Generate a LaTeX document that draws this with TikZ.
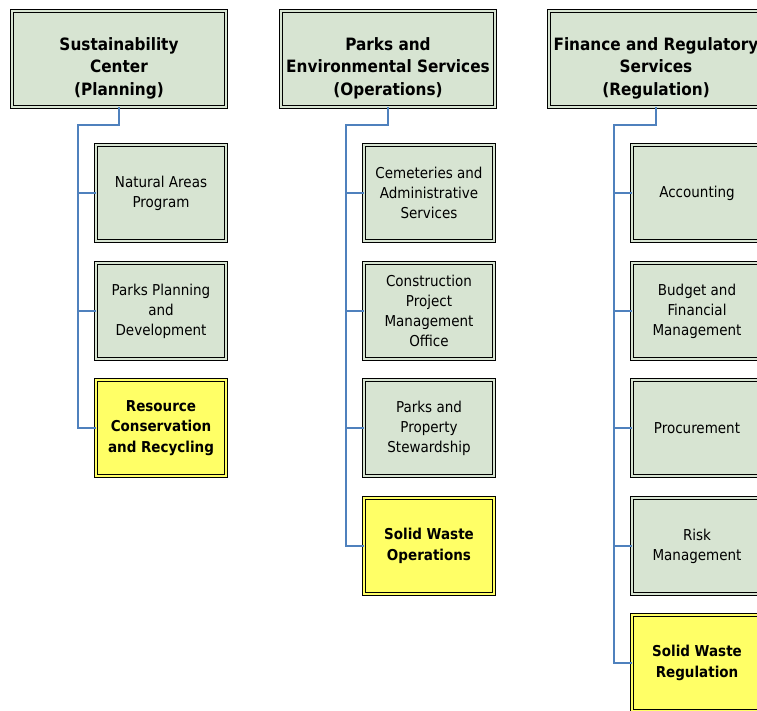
\documentclass[tikz,border=0pt]{standalone}
\usepackage{fontspec}
\setmainfont{DejaVu Sans Condensed}
\usepackage{tikz}
\usetikzlibrary{positioning}

\definecolor{boxgreen}{RGB}{215,228,210}
\definecolor{boxyellow}{RGB}{255,255,102}
\definecolor{linkblue}{RGB}{79,129,189}

\begin{document}
\begin{tikzpicture}[
  x=1pt, y=-1pt,
  box/.style={draw=black, double=#1, double distance=2.2pt, line width=0.8pt,
    fill=#1, align=center, inner sep=2pt},
  head/.style={box=boxgreen, minimum width=214pt, minimum height=96pt,
    text height=76pt, font=\fontsize{17}{22.5}\selectfont\bfseries},
  unit/.style={box=boxgreen, minimum width=130pt, minimum height=96pt,
    font=\fontsize{15}{20}\selectfont},
  hot/.style={box=boxyellow, minimum width=130pt, minimum height=96pt,
    font=\fontsize{15}{20.5}\selectfont\bfseries},
  link/.style={draw=linkblue, line width=1.2pt},
]
\useasboundingbox (0,0) rectangle (757,710);

% top level
\node[head] (SC) at (119,59) {Sustainability\\Center\\(Planning)};
\node[head] (PE) at (388,59) {Parks and\\Environmental Services\\(Operations)};
\node[head] (FR) at (656,59) {Finance and Regulatory\\Services\\(Regulation)};

% planning
\node[unit] (SC1) at (161,193) {Natural Areas\\Program};
\node[unit] (SC2) at (161,311) {Parks Planning\\and\\Development};
\node[hot]  (SC3) at (161,428) {Resource\\Conservation\\and Recycling};

% operations
\node[unit] (PE1) at (429,193) {Cemeteries and\\Administrative\\Services};
\node[unit] (PE2) at (429,311) {Construction\\Project\\Management\\Office};
\node[unit] (PE3) at (429,428) {Parks and\\Property\\Stewardship};
\node[hot]  (PE4) at (429,546) {Solid Waste\\Operations};

% regulation
\node[unit] (FR1) at (697,193) {Accounting};
\node[unit] (FR2) at (697,311) {Budget and\\Financial\\Management};
\node[unit] (FR3) at (697,428) {Procurement};
\node[unit] (FR4) at (697,546) {Risk\\Management};
\node[hot]  (FR5) at (697,663) {Solid Waste\\Regulation};

% spines
\coordinate (SCk) at (78,125);
\coordinate (PEk) at (346,125);
\coordinate (FRk) at (614,125);

\draw[link] (SC.south) |- (SCk) -- (SCk |- SC3.west) -- (SC3.west);
\draw[link] (SCk |- SC1.west) -- (SC1.west);
\draw[link] (SCk |- SC2.west) -- (SC2.west);

\draw[link] (PE.south) |- (PEk) -- (PEk |- PE4.west) -- (PE4.west);
\draw[link] (PEk |- PE1.west) -- (PE1.west);
\draw[link] (PEk |- PE2.west) -- (PE2.west);
\draw[link] (PEk |- PE3.west) -- (PE3.west);

\draw[link] (FR.south) |- (FRk) -- (FRk |- FR5.west) -- (FR5.west);
\draw[link] (FRk |- FR1.west) -- (FR1.west);
\draw[link] (FRk |- FR2.west) -- (FR2.west);
\draw[link] (FRk |- FR3.west) -- (FR3.west);
\draw[link] (FRk |- FR4.west) -- (FR4.west);
\end{tikzpicture}
\end{document}
